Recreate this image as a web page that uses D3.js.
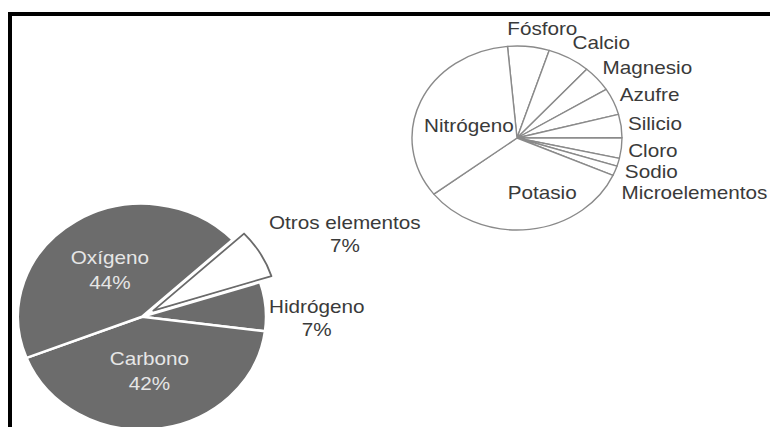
<!DOCTYPE html>
<html>
<head>
<meta charset="utf-8">
<script src="https://cdn.jsdelivr.net/npm/d3@7"></script>
<style>
body { margin: 0; background: #fff; }
svg { display: block; }
text { font-family: "Liberation Sans", Arial, sans-serif; }
</style>
</head>
<body>
<div class="viz"></div>
<script>
const width = 770;
const height = 427;

// pie grande: composicion de la planta (%)
const mainNames = ["Otros elementos", "Hidrógeno", "Carbono", "Oxígeno"];
const mainValues = [7, 7, 42, 44];

// pie chico: reparto de "otros elementos"
const detailNames = ["Fósforo", "Calcio", "Magnesio", "Azufre", "Silicio", "Cloro", "Sodio", "Microelementos", "Potasio", "Nitrógeno"];
const detailValues = [6.4, 6.6, 4.6, 4.7, 4.1, 3.6, 1.4, 1.7, 32.9, 34.0];

const deg = Math.PI / 180;
const fontSize = 18;
const textStretch = 1.15;

const svg = d3.select(".viz")
    .append("svg")
    .attr("width", width)
    .attr("height", height);

// marco (arriba + izquierda)
svg.append("path")
    .attr("d", `M10,${height} V14 H${width}`)
    .attr("fill", "none")
    .attr("stroke", "#000")
    .attr("stroke-width", 4);

// geometria de cada torta (elipse: se estira en x)
const mainGeo = { cx: 142, cy: 316.7, rx: 124, ry: 113, start: 47 * deg, explode: 12 };
const detailGeo = { cx: 517, cy: 138, rx: 105, ry: 92, start: -5.2 * deg };

function pieData(names, values, geo) {
    const pie = d3.pie()
        .sort(null)
        .value(d => d.value)
        .startAngle(geo.start)
        .endAngle(geo.start + 2 * Math.PI);
    return pie(names.map((n, i) => ({ name: n, value: values[i] })));
}

function addText(x, y, str, color, anchor) {
    return svg.append("text")
        .attr("transform", `translate(${x},${y}) scale(${textStretch},1)`)
        .attr("text-anchor", anchor || "middle")
        .attr("dominant-baseline", "central")
        .style("font-size", fontSize + "px")
        .style("fill", color)
        .text(str);
}

// small nudges for hand placed labels
const nudge = {
    "Otros elementos": [0, -37],
    "Fósforo": [13, 0],
    "Potasio": [19, 9],
    "Nitrógeno": [0, 6]
};

// ---------- torta grande ----------
const mainArcs = pieData(mainNames, mainValues, mainGeo);
const sxMain = mainGeo.rx / mainGeo.ry;
const arcMain = d3.arc().innerRadius(0).outerRadius(mainGeo.ry);

const gMain = svg.append("g")
    .attr("transform", `translate(${mainGeo.cx},${mainGeo.cy}) scale(${sxMain},1)`);

gMain.selectAll("path")
    .data(mainArcs)
    .enter()
    .append("path")
    .attr("d", arcMain)
    .attr("transform", d => {
        if (d.data.name !== "Otros elementos") return null;
        const m = (d.startAngle + d.endAngle) / 2;
        return `translate(${Math.sin(m) * mainGeo.explode},${-Math.cos(m) * mainGeo.explode})`;
    })
    .attr("fill", d => d.data.name === "Otros elementos" ? "#fff" : "#6c6c6c")
    .attr("stroke", d => d.data.name === "Otros elementos" ? "#6a6a6a" : "#fff")
    .attr("stroke-width", d => d.data.name === "Otros elementos" ? 1.8 : 2.5)
    .attr("stroke-linejoin", "round")
    .attr("vector-effect", "non-scaling-stroke");

mainArcs.forEach(d => {
    const m = (d.startAngle + d.endAngle) / 2;
    const nd = nudge[d.data.name] || [0, 0];
    const pct = d.data.value + "%";
    if (d.data.name === "Oxígeno" || d.data.name === "Carbono") {
        // etiqueta dentro
        const x = mainGeo.cx + Math.sin(m) * 55 * sxMain + nd[0];
        const y = mainGeo.cy - Math.cos(m) * 55 + nd[1];
        addText(x, y - 12.5, d.data.name, "#e6e6e6");
        addText(x, y + 12.5, pct, "#e6e6e6");
    } else {
        // etiqueta fuera, a la derecha
        const x0 = mainGeo.cx + mainGeo.rx + 3 + nd[0];
        const y = mainGeo.cy - Math.cos(m) * mainGeo.ry + nd[1];
        const t = addText(x0, y, d.data.name, "#3a3a3a", "start");
        const w = t.node().getComputedTextLength() * textStretch;
        addText(x0 + w / 2, y + 23, pct, "#3a3a3a");
    }
});

// ---------- torta chica ----------
const detailArcs = pieData(detailNames, detailValues, detailGeo);
const sxDet = detailGeo.rx / detailGeo.ry;
const arcDet = d3.arc().innerRadius(0).outerRadius(detailGeo.ry);

const gDet = svg.append("g")
    .attr("transform", `translate(${detailGeo.cx},${detailGeo.cy}) scale(${sxDet},1)`);

gDet.selectAll("path")
    .data(detailArcs)
    .enter()
    .append("path")
    .attr("d", arcDet)
    .attr("fill", "#fff")
    .attr("stroke", "#8a8a8a")
    .attr("stroke-width", 1.4)
    .attr("stroke-linejoin", "round")
    .attr("vector-effect", "non-scaling-stroke");

let lastY = -Infinity;
detailArcs.forEach(d => {
    const m = (d.startAngle + d.endAngle) / 2;
    const nd = nudge[d.data.name] || [0, 0];
    if (d.data.name === "Nitrógeno" || d.data.name === "Potasio") {
        const x = detailGeo.cx + Math.sin(m) * 46 * sxDet + nd[0];
        const y = detailGeo.cy - Math.cos(m) * 46 + nd[1];
        addText(x, y, d.data.name, "#3a3a3a");
        return;
    }
    let x = detailGeo.cx + Math.sin(m) * (detailGeo.ry + 6) * sxDet + nd[0];
    let y = detailGeo.cy - Math.cos(m) * (detailGeo.ry + 18) + nd[1];
    // apilar las etiquetas de abajo
    if (m > 80 * deg) y = Math.max(y, lastY + 21);
    lastY = y;
    const anchor = Math.sin(m) < 0.2 ? "middle" : "start";
    addText(x, y, d.data.name, "#3a3a3a", anchor);
});
</script>
</body>
</html>
